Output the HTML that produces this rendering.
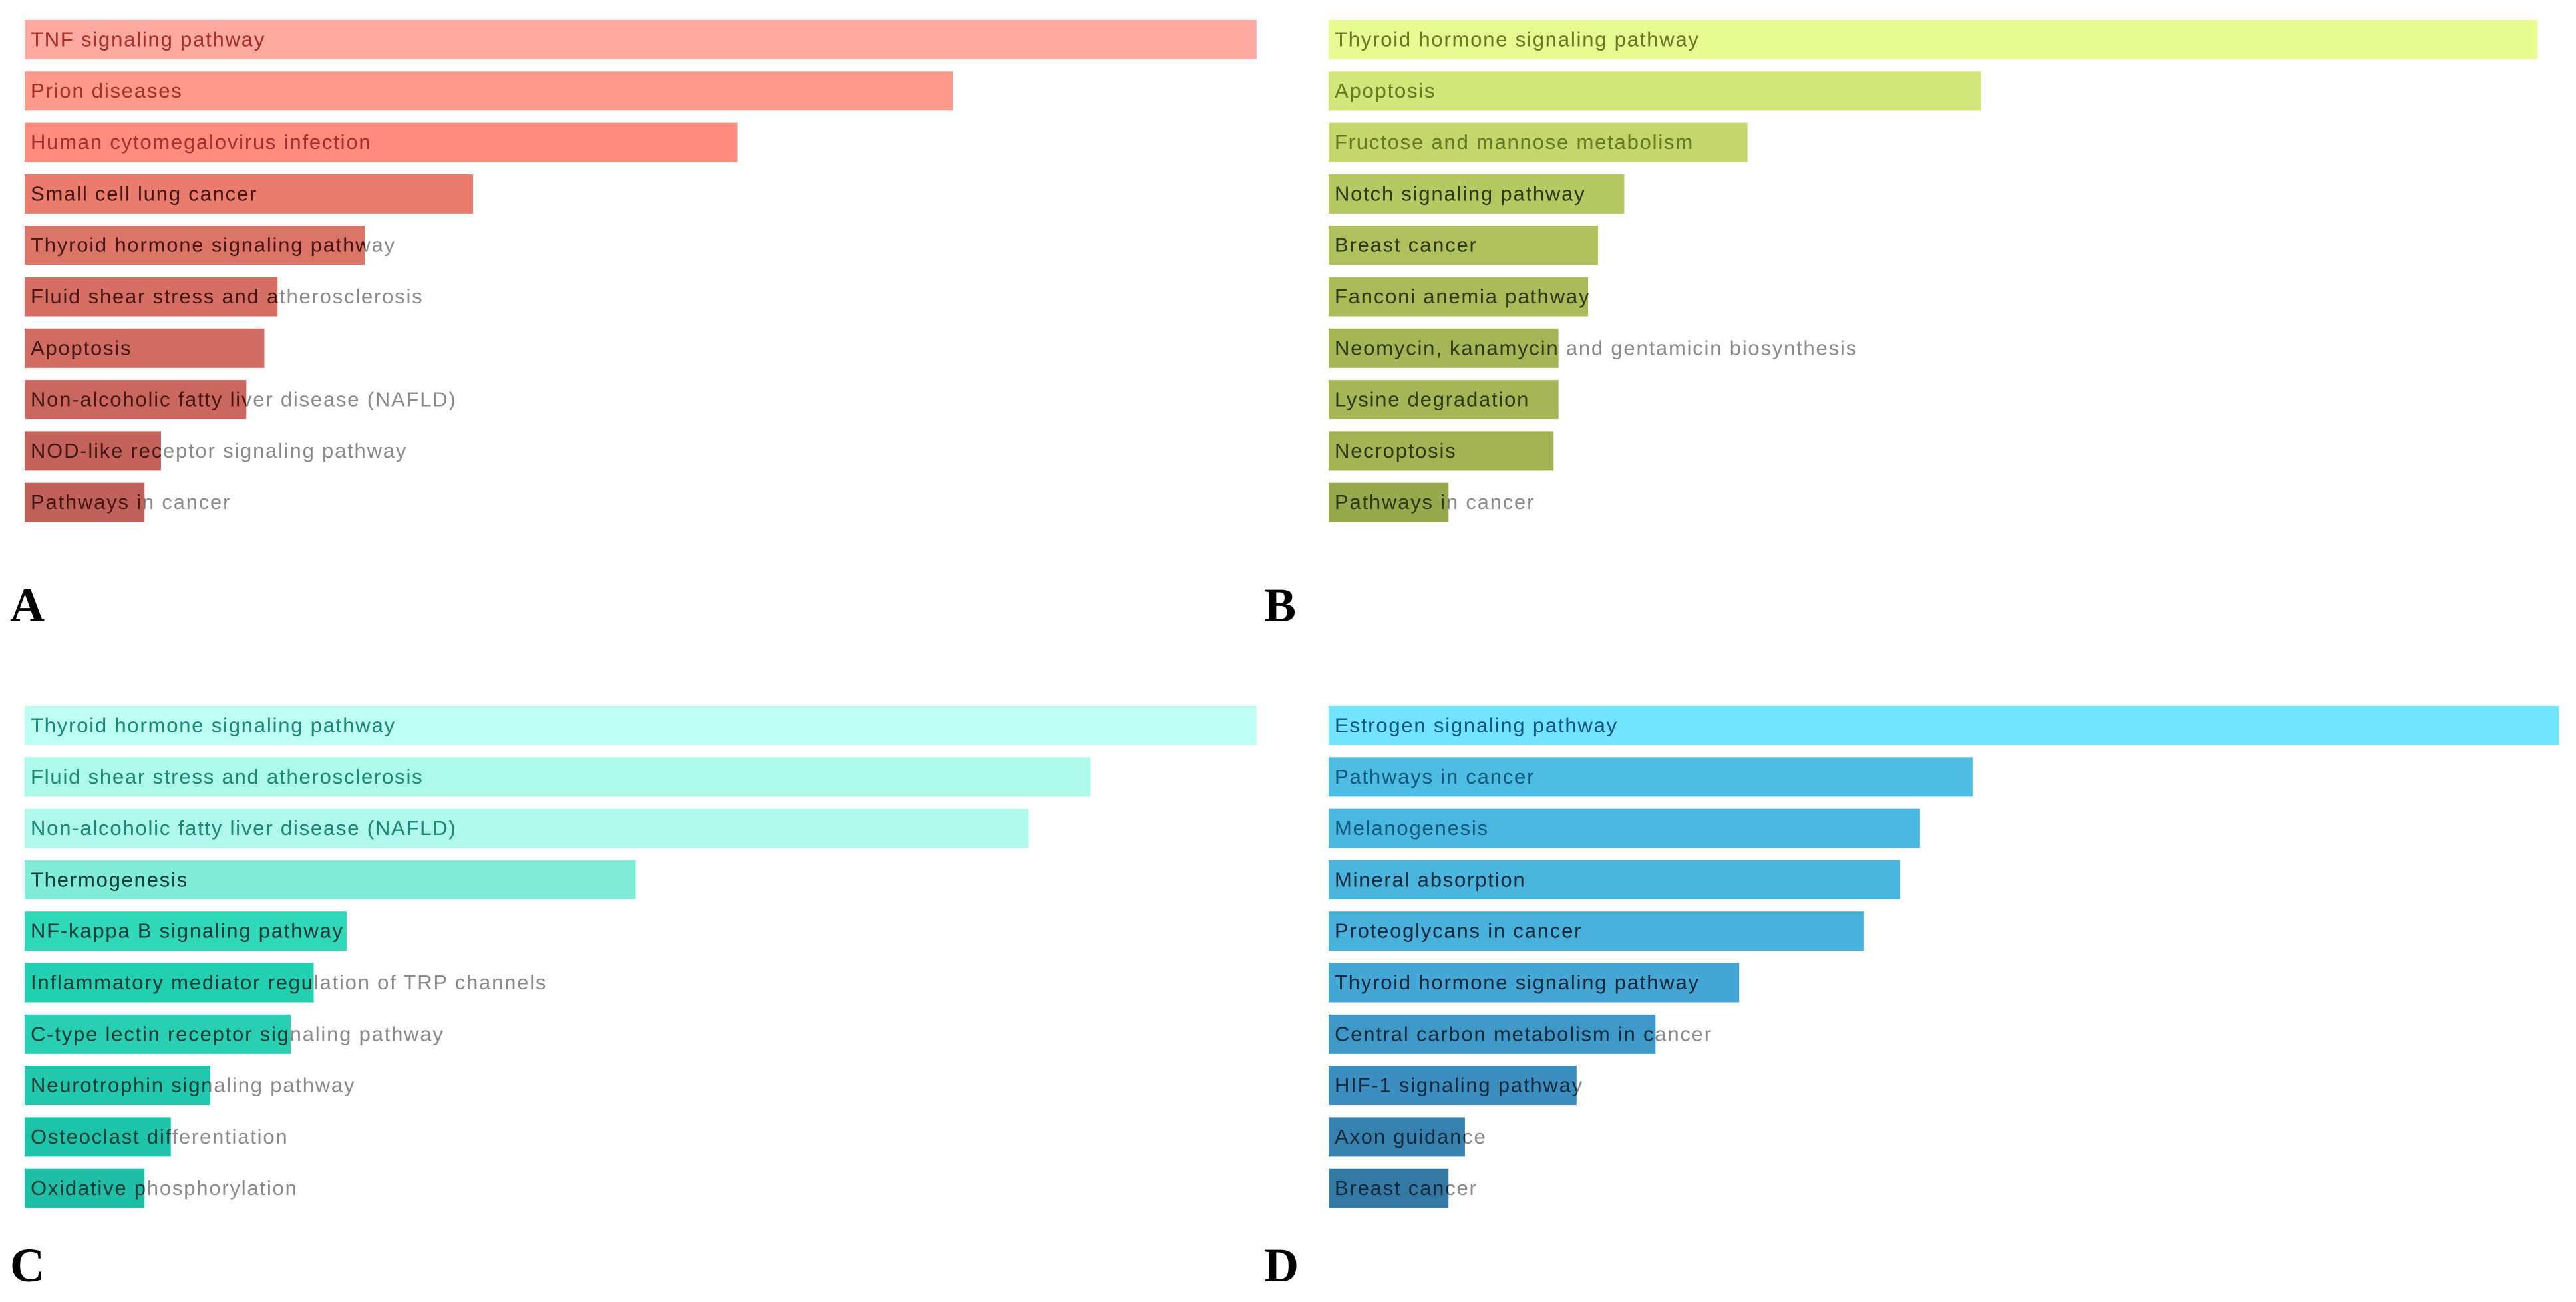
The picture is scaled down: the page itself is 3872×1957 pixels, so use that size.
<!DOCTYPE html>
<html><head><meta charset="utf-8"><style>
html,body{margin:0;padding:0;background:#fff}
svg{display:block}
</style></head><body>
<svg id="chart" xmlns="http://www.w3.org/2000/svg" width="3872" height="1957" viewBox="0 0 3872 1957">
<rect width="3872" height="1957" fill="#fff"/>
</svg>
<script>
const catsA=["TNF signaling pathway","Prion diseases","Human cytomegalovirus infection","Small cell lung cancer","Thyroid hormone signaling pathway","Fluid shear stress and atherosclerosis","Apoptosis","Non-alcoholic fatty liver disease (NAFLD)","NOD-like receptor signaling pathway","Pathways in cancer"];
const valsA=[750,565,434,273,207,154,146,135,83,73];
const catsB=["Thyroid hormone signaling pathway","Apoptosis","Fructose and mannose metabolism","Notch signaling pathway","Breast cancer","Fanconi anemia pathway","Neomycin, kanamycin and gentamicin biosynthesis","Lysine degradation","Necroptosis","Pathways in cancer"];
const valsB=[736,397,255,180,164,158,140,140,137,73];
const catsC=["Thyroid hormone signaling pathway","Fluid shear stress and atherosclerosis","Non-alcoholic fatty liver disease (NAFLD)","Thermogenesis","NF-kappa B signaling pathway","Inflammatory mediator regulation of TRP channels","C-type lectin receptor signaling pathway","Neurotrophin signaling pathway","Osteoclast differentiation","Oxidative phosphorylation"];
const valsC=[750,649,611,372,196,176,162,113,89,73];
const catsD=["Estrogen signaling pathway","Pathways in cancer","Melanogenesis","Mineral absorption","Proteoglycans in cancer","Thyroid hormone signaling pathway","Central carbon metabolism in cancer","HIF-1 signaling pathway","Axon guidance","Breast cancer"];
const valsD=[749,392,360,348,326,250,199,151,83,73];

const colA=["#ffaaa0","#ff9a8c","#ff8c7e","#ea7c6e","#dc7468","#d66e64","#d06c62","#ca6860","#c4625c","#c0605a"];
const colB=["#e8fb92","#d3e67a","#c4d66c","#b6c862","#afc05c","#abbb5a","#a6b556","#a6b556","#a4b354","#98a84c"];
const colC=["#bdfff3","#aefaea","#b0f8ec","#80ecd8","#2fd8b8","#20d0b0","#28cfb2","#22c8ae","#1ec4aa","#1ebfa6"];
const colD=["#72e4fd","#4dbde4","#4ab8e0","#4ab6de","#48b2dc","#44a6d4","#3e98c8","#3c8ec0","#3882b0","#3478a4"];

const NS="http://www.w3.org/2000/svg";
const svg=document.getElementById('chart');
const defs=document.createElementNS(NS,'defs');svg.appendChild(defs);
const UNIT=2.469, BAR_H=59, PITCH=77.3;
function xScale(v){return v*UNIT;}
function yScale(i,top){return top+i*PITCH;}

function panel(id,left,top,cats,vals,cols,inkTop,ink,letter,lx,ly){
  const g=document.createElementNS(NS,'g');
  
  
  svg.appendChild(g);
  cats.forEach((c,i)=>{
    const y=yScale(i,top), w=xScale(vals[i]);
    const r=document.createElementNS(NS,'rect');
    r.setAttribute('x',left);r.setAttribute('y',y);r.setAttribute('width',w);r.setAttribute('height',BAR_H);
    r.setAttribute('fill',cols[i]);
    
    
    g.appendChild(r);
    const t=document.createElementNS(NS,'text');
    t.setAttribute('x',left+9);t.setAttribute('y',y+BAR_H/2+10);
    t.setAttribute('font-family','Liberation Sans, sans-serif');t.setAttribute('font-size','31');
    t.setAttribute('letter-spacing','1.8');
    t.setAttribute('fill','#8a8a8a');
    t.textContent=c;
    
    
    g.appendChild(t);
    const cp=document.createElementNS(NS,'clipPath');
    cp.setAttribute('id','cp'+id+i);
    const cr=document.createElementNS(NS,'rect');
    cr.setAttribute('x',left);cr.setAttribute('y',y);cr.setAttribute('width',w);cr.setAttribute('height',BAR_H);
    cp.appendChild(cr);defs.appendChild(cp);
    const t2=t.cloneNode(true);
    t2.setAttribute('fill',i<3?inkTop:ink);
    t2.setAttribute('clip-path','url(#cp'+id+i+')');
    
    
    g.appendChild(t2);
  });
  const L=document.createElementNS(NS,'text');
  L.setAttribute('x',lx);L.setAttribute('y',ly);
  L.setAttribute('font-family','Liberation Serif, serif');L.setAttribute('font-weight','bold');L.setAttribute('font-size','72');
  L.setAttribute('fill','#000');
  L.textContent=letter;
  
  
  g.appendChild(L);
}
panel('a',37,30,catsA,valsA,colA,'#a83028','#4a1410','A',15,934);
panel('b',1997,30,catsB,valsB,colB,'#6a7a20','#2f3a10','B',1900,934);
panel('c',37,1061,catsC,valsC,colC,'#1a8a78','#0b3e36','C',15,1926);
panel('d',1997,1061,catsD,valsD,colD,'#0d5a80','#0a2a40','D',1900,1926);
</script>
</body></html>
